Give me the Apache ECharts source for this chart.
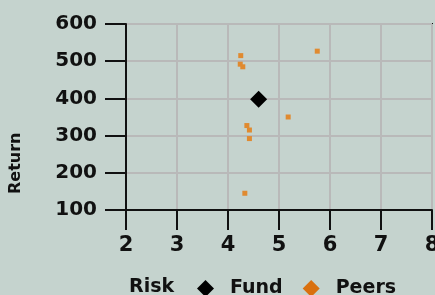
<!DOCTYPE html>
<html>
<head>
<meta charset="utf-8">
<script src="https://cdn.jsdelivr.net/npm/echarts@6/dist/echarts.min.js"></script>
<style>
  html, body { margin: 0; padding: 0; background: #c5d3ce; }
  #main { width: 435px; height: 295px; }
</style>
</head>
<body>
<div id="main"></div>
<script>
// 数据
var xTicks = [2, 3, 4, 5, 6, 7, 8];
var yTicks = [100, 200, 300, 400, 500, 600];
var fundRisk = [4.6];
var fundReturn = [398];
var peersRisk = [4.25, 4.24, 4.29, 5.75, 5.18, 4.37, 4.42, 4.42, 4.33];
var peersReturn = [515, 492, 485, 527, 350, 327, 315, 292, 145];

var fundData = fundRisk.map(function(x, i){ return [x, fundReturn[i]]; });
var peersData = peersRisk.map(function(x, i){ return [x, peersReturn[i]]; });

var font = 'DejaVu Sans';
var myChart = echarts.init(document.getElementById('main'));
var option = {
  backgroundColor: '#c5d3ce',
  animation: false,
  title: {
    text: 'Risk',
    left: 124,
    top: 273,
    textStyle: { fontFamily: font, fontSize: 19, fontWeight: 'bold', color: '#111' }
  },
  graphic: [{
    type: 'text',
    x: 8,
    y: 194,
    rotation: Math.PI / 2,
    style: { text: 'Return', font: 'bold 16px "DejaVu Sans"', fill: '#111' }
  }],
  legend: {
    left: 192,
    top: 274,
    itemWidth: 17,
    itemHeight: 17,
    itemGap: 20,
    textStyle: { fontFamily: font, fontSize: 19, fontWeight: 'bold', color: '#111', padding: [0, 0, 0, 11] },
    data: [
      { name: 'Fund', icon: 'diamond', itemStyle: { color: '#000' } },
      { name: 'Peers', icon: 'diamond', itemStyle: { color: '#d9700f' } }
    ]
  },
  grid: {
    left: 126, right: 3, top: 24, bottom: 85,
    outerBoundsMode: 'none',
    show: true, borderColor: '#111', borderWidth: 2, backgroundColor: 'transparent'
  },
  xAxis: {
    type: 'value',
    min: xTicks[0], max: xTicks[xTicks.length - 1], interval: 1,
    axisLine: { lineStyle: { color: '#111', width: 2 } },
    axisTick: { length: 20, lineStyle: { color: '#111', width: 2 } },
    axisLabel: { margin: 25, fontFamily: font, fontSize: 21, fontWeight: 'bold', color: '#111' },
    splitLine: { lineStyle: { color: '#b9b9b9', width: 2 } }
  },
  yAxis: {
    type: 'value',
    min: yTicks[0], max: yTicks[yTicks.length - 1], interval: 100,
    axisLine: { show: true, lineStyle: { color: '#111', width: 2 } },
    axisTick: { show: true, length: 21, lineStyle: { color: '#111', width: 2 } },
    axisLabel: { margin: 29, fontFamily: font, fontSize: 20, fontWeight: 'bold', color: '#111' },
    splitLine: { lineStyle: { color: '#b9b9b9', width: 2 } }
  },
  series: [
    {
      name: 'Peers', type: 'scatter', symbol: 'rect', symbolSize: 5,
      itemStyle: { color: '#e08a30', opacity: 1 },
      data: peersData
    },
    {
      name: 'Fund', type: 'scatter', symbol: 'diamond', symbolSize: 17,
      itemStyle: { color: '#000', opacity: 1 },
      data: fundData
    }
  ]
};
myChart.setOption(option);
</script>
</body>
</html>
